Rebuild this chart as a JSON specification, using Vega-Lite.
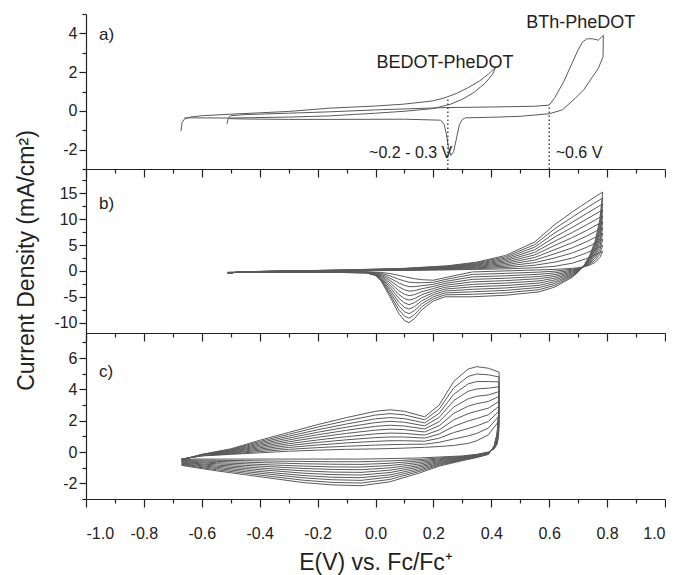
{
"$schema": "https://vega.github.io/schema/vega-lite/v6.json",
"padding": {"left": 15, "top": 13, "right": 0, "bottom": 2},
"bounds": "flush",
"spacing": 0,
"config": {
 "font": "Liberation Sans",
 "view": {"stroke": null},
 "axis": {"domainColor": "#222", "tickColor": "#222", "labelColor": "#222", "titleColor": "#222", "grid": false, "labelFontSize": 16, "labelFont": "Liberation Sans", "titleFont": "Liberation Sans", "titleFontWeight": "normal", "domainWidth": 1.2, "tickWidth": 1.2}
},
"datasets": {
"A": [
{"c":"e","x":-0.672,"y":-1.05},{"c":"e","x":-0.668,"y":-0.6},{"c":"e","x":-0.66,"y":-0.42},{"c":"e","x":-0.64,"y":-0.32},{"c":"e","x":-0.6,"y":-0.25},{"c":"e","x":-0.5,"y":-0.17},{"c":"e","x":-0.4,"y":-0.1},{"c":"e","x":-0.3,"y":-0.03},{"c":"e","x":-0.16,"y":0.14},{"c":"e","x":0,"y":0.25},{"c":"e","x":0.1,"y":0.35},{"c":"e","x":0.2,"y":0.52},{"c":"e","x":0.24,"y":0.68},{"c":"e","x":0.28,"y":0.9},{"c":"e","x":0.32,"y":1.2},{"c":"e","x":0.36,"y":1.55},{"c":"e","x":0.39,"y":1.9},{"c":"e","x":0.415,"y":2.25},{"c":"e","x":0.405,"y":1.9},{"c":"e","x":0.38,"y":1.45},{"c":"e","x":0.34,"y":0.95},{"c":"e","x":0.3,"y":0.6},{"c":"e","x":0.26,"y":0.35},{"c":"e","x":0.2,"y":0.12},{"c":"e","x":0.1,"y":-0.02},{"c":"e","x":0,"y":-0.12},{"c":"e","x":-0.16,"y":-0.26},{"c":"e","x":-0.3,"y":-0.32},{"c":"e","x":-0.5,"y":-0.37},{"c":"e","x":-0.66,"y":-0.36},
{"c":"t","x":-0.513,"y":-0.67},{"c":"t","x":-0.508,"y":-0.35},{"c":"t","x":-0.5,"y":-0.25},{"c":"t","x":-0.45,"y":-0.19},{"c":"t","x":-0.3,"y":-0.12},{"c":"t","x":-0.16,"y":-0.05},{"c":"t","x":0,"y":0.05},{"c":"t","x":0.24,"y":0.17},{"c":"t","x":0.4,"y":0.2},{"c":"t","x":0.55,"y":0.24},{"c":"t","x":0.6,"y":0.3},{"c":"t","x":0.62,"y":0.7},{"c":"t","x":0.65,"y":1.5},{"c":"t","x":0.68,"y":2.5},{"c":"t","x":0.7,"y":3.15},{"c":"t","x":0.715,"y":3.55},{"c":"t","x":0.73,"y":3.72},{"c":"t","x":0.75,"y":3.72},{"c":"t","x":0.77,"y":3.65},{"c":"t","x":0.787,"y":3.9},{"c":"t","x":0.786,"y":2.8},{"c":"t","x":0.77,"y":2.2},{"c":"t","x":0.748,"y":1.72},{"c":"t","x":0.72,"y":1.1},{"c":"t","x":0.69,"y":0.65},{"c":"t","x":0.645,"y":0.05},{"c":"t","x":0.6,"y":-0.15},{"c":"t","x":0.5,"y":-0.28},{"c":"t","x":0.4,"y":-0.33},{"c":"t","x":0.31,"y":-0.36},{"c":"t","x":0.3,"y":-0.45},{"c":"t","x":0.29,"y":-0.7},{"c":"t","x":0.28,"y":-1.4},{"c":"t","x":0.27,"y":-2.1},{"c":"t","x":0.26,"y":-2.3},{"c":"t","x":0.252,"y":-1.9},{"c":"t","x":0.245,"y":-1.2},{"c":"t","x":0.237,"y":-0.7},{"c":"t","x":0.225,"y":-0.48},{"c":"t","x":0.1,"y":-0.43},{"c":"t","x":-0.16,"y":-0.44},{"c":"t","x":-0.3,"y":-0.44},{"c":"t","x":-0.45,"y":-0.42},{"c":"t","x":-0.505,"y":-0.4}
],
"B": [
{"c":0,"x":-0.51,"y":-0.4},{"c":0,"x":-0.45,"y":-0.15},{"c":0,"x":-0.3,"y":-0.1},{"c":0,"x":-0.1,"y":0},{"c":0,"x":0.1,"y":0.1},{"c":0,"x":0.25,"y":0.2},{"c":0,"x":0.35,"y":0.3},{"c":0,"x":0.45,"y":0.4},{"c":0,"x":0.55,"y":0.6},{"c":0,"x":0.62,"y":0.9},{"c":0,"x":0.68,"y":1.5},{"c":0,"x":0.73,"y":2.4},{"c":0,"x":0.785,"y":3.8},{"c":0,"x":0.775,"y":2.6},{"c":0,"x":0.76,"y":1.7},{"c":0,"x":0.74,"y":1.1},{"c":0,"x":0.72,"y":0.8},{"c":0,"x":0.7,"y":0.6},{"c":0,"x":0.68,"y":0.5},{"c":0,"x":0.62,"y":0.3},{"c":0,"x":0.565,"y":0.2},{"c":0,"x":0.45,"y":0},{"c":0,"x":0.334,"y":-0.2},{"c":0,"x":0.24,"y":-1.3},{"c":0,"x":0.2,"y":-1.8},{"c":0,"x":0.16,"y":-1.7},{"c":0,"x":0.135,"y":-1.5},{"c":0,"x":0.116,"y":-1.3},{"c":0,"x":0.1,"y":-1.1},{"c":0,"x":0.08,"y":-0.85},{"c":0,"x":0.05,"y":-0.5},{"c":0,"x":0.02,"y":-0.3},{"c":0,"x":0,"y":-0.25},{"c":0,"x":-0.03,"y":-0.2},{"c":0,"x":-0.2,"y":-0.22},{"c":0,"x":-0.51,"y":-0.3},
{"c":1,"x":-0.51,"y":-0.4},{"c":1,"x":-0.45,"y":-0.15},{"c":1,"x":-0.3,"y":-0.09},{"c":1,"x":-0.1,"y":0.02},{"c":1,"x":0.1,"y":0.14},{"c":1,"x":0.25,"y":0.28},{"c":1,"x":0.35,"y":0.44},{"c":1,"x":0.45,"y":0.66},{"c":1,"x":0.55,"y":1.1},{"c":1,"x":0.62,"y":1.71},{"c":1,"x":0.68,"y":2.49},{"c":1,"x":0.73,"y":3.49},{"c":1,"x":0.785,"y":4.95},{"c":1,"x":0.775,"y":3.34},{"c":1,"x":0.76,"y":2.13},{"c":1,"x":0.74,"y":1.29},{"c":1,"x":0.72,"y":0.82},{"c":1,"x":0.7,"y":0.52},{"c":1,"x":0.68,"y":0.33},{"c":1,"x":0.62,"y":-0.04},{"c":1,"x":0.565,"y":-0.23},{"c":1,"x":0.45,"y":-0.47},{"c":1,"x":0.334,"y":-0.68},{"c":1,"x":0.24,"y":-1.67},{"c":1,"x":0.2,"y":-2.2},{"c":1,"x":0.16,"y":-2.28},{"c":1,"x":0.135,"y":-2.27},{"c":1,"x":0.116,"y":-2.17},{"c":1,"x":0.1,"y":-1.95},{"c":1,"x":0.08,"y":-1.59},{"c":1,"x":0.05,"y":-0.95},{"c":1,"x":0.02,"y":-0.47},{"c":1,"x":0,"y":-0.32},{"c":1,"x":-0.03,"y":-0.22},{"c":1,"x":-0.2,"y":-0.22},{"c":1,"x":-0.51,"y":-0.3},
{"c":2,"x":-0.51,"y":-0.4},{"c":2,"x":-0.45,"y":-0.15},{"c":2,"x":-0.3,"y":-0.08},{"c":2,"x":-0.1,"y":0.04},{"c":2,"x":0.1,"y":0.18},{"c":2,"x":0.25,"y":0.36},{"c":2,"x":0.35,"y":0.58},{"c":2,"x":0.45,"y":0.92},{"c":2,"x":0.55,"y":1.6},{"c":2,"x":0.62,"y":2.52},{"c":2,"x":0.68,"y":3.48},{"c":2,"x":0.73,"y":4.58},{"c":2,"x":0.785,"y":6.09},{"c":2,"x":0.775,"y":4.08},{"c":2,"x":0.76,"y":2.56},{"c":2,"x":0.74,"y":1.48},{"c":2,"x":0.72,"y":0.84},{"c":2,"x":0.7,"y":0.44},{"c":2,"x":0.68,"y":0.16},{"c":2,"x":0.62,"y":-0.38},{"c":2,"x":0.565,"y":-0.65},{"c":2,"x":0.45,"y":-0.94},{"c":2,"x":0.334,"y":-1.16},{"c":2,"x":0.24,"y":-2.04},{"c":2,"x":0.2,"y":-2.6},{"c":2,"x":0.16,"y":-2.86},{"c":2,"x":0.135,"y":-3.04},{"c":2,"x":0.116,"y":-3.04},{"c":2,"x":0.1,"y":-2.8},{"c":2,"x":0.08,"y":-2.32},{"c":2,"x":0.05,"y":-1.4},{"c":2,"x":0.02,"y":-0.64},{"c":2,"x":0,"y":-0.38},{"c":2,"x":-0.03,"y":-0.24},{"c":2,"x":-0.2,"y":-0.22},{"c":2,"x":-0.51,"y":-0.3},
{"c":3,"x":-0.51,"y":-0.4},{"c":3,"x":-0.45,"y":-0.15},{"c":3,"x":-0.3,"y":-0.07},{"c":3,"x":-0.1,"y":0.06},{"c":3,"x":0.1,"y":0.22},{"c":3,"x":0.25,"y":0.44},{"c":3,"x":0.35,"y":0.72},{"c":3,"x":0.45,"y":1.18},{"c":3,"x":0.55,"y":2.1},{"c":3,"x":0.62,"y":3.33},{"c":3,"x":0.68,"y":4.47},{"c":3,"x":0.73,"y":5.67},{"c":3,"x":0.785,"y":7.24},{"c":3,"x":0.775,"y":4.82},{"c":3,"x":0.76,"y":2.99},{"c":3,"x":0.74,"y":1.67},{"c":3,"x":0.72,"y":0.86},{"c":3,"x":0.7,"y":0.36},{"c":3,"x":0.68,"y":-0.01},{"c":3,"x":0.62,"y":-0.72},{"c":3,"x":0.565,"y":-1.08},{"c":3,"x":0.45,"y":-1.41},{"c":3,"x":0.334,"y":-1.64},{"c":3,"x":0.24,"y":-2.41},{"c":3,"x":0.2,"y":-3.0},{"c":3,"x":0.16,"y":-3.44},{"c":3,"x":0.135,"y":-3.81},{"c":3,"x":0.116,"y":-3.91},{"c":3,"x":0.1,"y":-3.65},{"c":3,"x":0.08,"y":-3.06},{"c":3,"x":0.05,"y":-1.85},{"c":3,"x":0.02,"y":-0.81},{"c":3,"x":0,"y":-0.45},{"c":3,"x":-0.03,"y":-0.26},{"c":3,"x":-0.2,"y":-0.22},{"c":3,"x":-0.51,"y":-0.3},
{"c":4,"x":-0.51,"y":-0.4},{"c":4,"x":-0.45,"y":-0.15},{"c":4,"x":-0.3,"y":-0.06},{"c":4,"x":-0.1,"y":0.08},{"c":4,"x":0.1,"y":0.26},{"c":4,"x":0.25,"y":0.52},{"c":4,"x":0.35,"y":0.86},{"c":4,"x":0.45,"y":1.44},{"c":4,"x":0.55,"y":2.6},{"c":4,"x":0.62,"y":4.14},{"c":4,"x":0.68,"y":5.46},{"c":4,"x":0.73,"y":6.76},{"c":4,"x":0.785,"y":8.38},{"c":4,"x":0.775,"y":5.56},{"c":4,"x":0.76,"y":3.42},{"c":4,"x":0.74,"y":1.86},{"c":4,"x":0.72,"y":0.88},{"c":4,"x":0.7,"y":0.28},{"c":4,"x":0.68,"y":-0.18},{"c":4,"x":0.62,"y":-1.06},{"c":4,"x":0.565,"y":-1.5},{"c":4,"x":0.45,"y":-1.88},{"c":4,"x":0.334,"y":-2.12},{"c":4,"x":0.24,"y":-2.78},{"c":4,"x":0.2,"y":-3.4},{"c":4,"x":0.16,"y":-4.02},{"c":4,"x":0.135,"y":-4.58},{"c":4,"x":0.116,"y":-4.78},{"c":4,"x":0.1,"y":-4.5},{"c":4,"x":0.08,"y":-3.79},{"c":4,"x":0.05,"y":-2.3},{"c":4,"x":0.02,"y":-0.98},{"c":4,"x":0,"y":-0.51},{"c":4,"x":-0.03,"y":-0.28},{"c":4,"x":-0.2,"y":-0.22},{"c":4,"x":-0.51,"y":-0.3},
{"c":5,"x":-0.51,"y":-0.4},{"c":5,"x":-0.45,"y":-0.15},{"c":5,"x":-0.3,"y":-0.05},{"c":5,"x":-0.1,"y":0.1},{"c":5,"x":0.1,"y":0.3},{"c":5,"x":0.25,"y":0.6},{"c":5,"x":0.35,"y":1.0},{"c":5,"x":0.45,"y":1.7},{"c":5,"x":0.55,"y":3.1},{"c":5,"x":0.62,"y":4.95},{"c":5,"x":0.68,"y":6.45},{"c":5,"x":0.73,"y":7.85},{"c":5,"x":0.785,"y":9.53},{"c":5,"x":0.775,"y":6.3},{"c":5,"x":0.76,"y":3.85},{"c":5,"x":0.74,"y":2.05},{"c":5,"x":0.72,"y":0.9},{"c":5,"x":0.7,"y":0.2},{"c":5,"x":0.68,"y":-0.35},{"c":5,"x":0.62,"y":-1.4},{"c":5,"x":0.565,"y":-1.93},{"c":5,"x":0.45,"y":-2.35},{"c":5,"x":0.334,"y":-2.6},{"c":5,"x":0.24,"y":-3.15},{"c":5,"x":0.2,"y":-3.8},{"c":5,"x":0.16,"y":-4.6},{"c":5,"x":0.135,"y":-5.35},{"c":5,"x":0.116,"y":-5.65},{"c":5,"x":0.1,"y":-5.35},{"c":5,"x":0.08,"y":-4.53},{"c":5,"x":0.05,"y":-2.75},{"c":5,"x":0.02,"y":-1.15},{"c":5,"x":0,"y":-0.58},{"c":5,"x":-0.03,"y":-0.3},{"c":5,"x":-0.2,"y":-0.22},{"c":5,"x":-0.51,"y":-0.3},
{"c":6,"x":-0.51,"y":-0.4},{"c":6,"x":-0.45,"y":-0.15},{"c":6,"x":-0.3,"y":-0.04},{"c":6,"x":-0.1,"y":0.12},{"c":6,"x":0.1,"y":0.34},{"c":6,"x":0.25,"y":0.68},{"c":6,"x":0.35,"y":1.14},{"c":6,"x":0.45,"y":1.96},{"c":6,"x":0.55,"y":3.6},{"c":6,"x":0.62,"y":5.76},{"c":6,"x":0.68,"y":7.44},{"c":6,"x":0.73,"y":8.94},{"c":6,"x":0.785,"y":10.67},{"c":6,"x":0.775,"y":7.04},{"c":6,"x":0.76,"y":4.28},{"c":6,"x":0.74,"y":2.24},{"c":6,"x":0.72,"y":0.92},{"c":6,"x":0.7,"y":0.12},{"c":6,"x":0.68,"y":-0.52},{"c":6,"x":0.62,"y":-1.74},{"c":6,"x":0.565,"y":-2.35},{"c":6,"x":0.45,"y":-2.82},{"c":6,"x":0.334,"y":-3.08},{"c":6,"x":0.24,"y":-3.52},{"c":6,"x":0.2,"y":-4.2},{"c":6,"x":0.16,"y":-5.18},{"c":6,"x":0.135,"y":-6.12},{"c":6,"x":0.116,"y":-6.52},{"c":6,"x":0.1,"y":-6.2},{"c":6,"x":0.08,"y":-5.26},{"c":6,"x":0.05,"y":-3.2},{"c":6,"x":0.02,"y":-1.32},{"c":6,"x":0,"y":-0.64},{"c":6,"x":-0.03,"y":-0.32},{"c":6,"x":-0.2,"y":-0.22},{"c":6,"x":-0.51,"y":-0.3},
{"c":7,"x":-0.51,"y":-0.4},{"c":7,"x":-0.45,"y":-0.15},{"c":7,"x":-0.3,"y":-0.03},{"c":7,"x":-0.1,"y":0.14},{"c":7,"x":0.1,"y":0.38},{"c":7,"x":0.25,"y":0.76},{"c":7,"x":0.35,"y":1.28},{"c":7,"x":0.45,"y":2.22},{"c":7,"x":0.55,"y":4.1},{"c":7,"x":0.62,"y":6.57},{"c":7,"x":0.68,"y":8.43},{"c":7,"x":0.73,"y":10.03},{"c":7,"x":0.785,"y":11.82},{"c":7,"x":0.775,"y":7.78},{"c":7,"x":0.76,"y":4.71},{"c":7,"x":0.74,"y":2.43},{"c":7,"x":0.72,"y":0.94},{"c":7,"x":0.7,"y":0.04},{"c":7,"x":0.68,"y":-0.69},{"c":7,"x":0.62,"y":-2.08},{"c":7,"x":0.565,"y":-2.78},{"c":7,"x":0.45,"y":-3.29},{"c":7,"x":0.334,"y":-3.56},{"c":7,"x":0.24,"y":-3.89},{"c":7,"x":0.2,"y":-4.6},{"c":7,"x":0.16,"y":-5.76},{"c":7,"x":0.135,"y":-6.89},{"c":7,"x":0.116,"y":-7.39},{"c":7,"x":0.1,"y":-7.05},{"c":7,"x":0.08,"y":-6.0},{"c":7,"x":0.05,"y":-3.65},{"c":7,"x":0.02,"y":-1.49},{"c":7,"x":0,"y":-0.71},{"c":7,"x":-0.03,"y":-0.34},{"c":7,"x":-0.2,"y":-0.22},{"c":7,"x":-0.51,"y":-0.3},
{"c":8,"x":-0.51,"y":-0.4},{"c":8,"x":-0.45,"y":-0.15},{"c":8,"x":-0.3,"y":-0.02},{"c":8,"x":-0.1,"y":0.16},{"c":8,"x":0.1,"y":0.42},{"c":8,"x":0.25,"y":0.84},{"c":8,"x":0.35,"y":1.42},{"c":8,"x":0.45,"y":2.48},{"c":8,"x":0.55,"y":4.6},{"c":8,"x":0.62,"y":7.38},{"c":8,"x":0.68,"y":9.42},{"c":8,"x":0.73,"y":11.12},{"c":8,"x":0.785,"y":12.96},{"c":8,"x":0.775,"y":8.52},{"c":8,"x":0.76,"y":5.14},{"c":8,"x":0.74,"y":2.62},{"c":8,"x":0.72,"y":0.96},{"c":8,"x":0.7,"y":-0.04},{"c":8,"x":0.68,"y":-0.86},{"c":8,"x":0.62,"y":-2.42},{"c":8,"x":0.565,"y":-3.2},{"c":8,"x":0.45,"y":-3.76},{"c":8,"x":0.334,"y":-4.04},{"c":8,"x":0.24,"y":-4.26},{"c":8,"x":0.2,"y":-5.0},{"c":8,"x":0.16,"y":-6.34},{"c":8,"x":0.135,"y":-7.66},{"c":8,"x":0.116,"y":-8.26},{"c":8,"x":0.1,"y":-7.9},{"c":8,"x":0.08,"y":-6.73},{"c":8,"x":0.05,"y":-4.1},{"c":8,"x":0.02,"y":-1.66},{"c":8,"x":0,"y":-0.77},{"c":8,"x":-0.03,"y":-0.36},{"c":8,"x":-0.2,"y":-0.22},{"c":8,"x":-0.51,"y":-0.3},
{"c":9,"x":-0.51,"y":-0.4},{"c":9,"x":-0.45,"y":-0.15},{"c":9,"x":-0.3,"y":-0.01},{"c":9,"x":-0.1,"y":0.18},{"c":9,"x":0.1,"y":0.46},{"c":9,"x":0.25,"y":0.92},{"c":9,"x":0.35,"y":1.56},{"c":9,"x":0.45,"y":2.74},{"c":9,"x":0.55,"y":5.1},{"c":9,"x":0.62,"y":8.19},{"c":9,"x":0.68,"y":10.41},{"c":9,"x":0.73,"y":12.21},{"c":9,"x":0.785,"y":14.11},{"c":9,"x":0.775,"y":9.26},{"c":9,"x":0.76,"y":5.57},{"c":9,"x":0.74,"y":2.81},{"c":9,"x":0.72,"y":0.98},{"c":9,"x":0.7,"y":-0.12},{"c":9,"x":0.68,"y":-1.03},{"c":9,"x":0.62,"y":-2.76},{"c":9,"x":0.565,"y":-3.63},{"c":9,"x":0.45,"y":-4.23},{"c":9,"x":0.334,"y":-4.52},{"c":9,"x":0.24,"y":-4.63},{"c":9,"x":0.2,"y":-5.4},{"c":9,"x":0.16,"y":-6.92},{"c":9,"x":0.135,"y":-8.43},{"c":9,"x":0.116,"y":-9.13},{"c":9,"x":0.1,"y":-8.75},{"c":9,"x":0.08,"y":-7.47},{"c":9,"x":0.05,"y":-4.55},{"c":9,"x":0.02,"y":-1.83},{"c":9,"x":0,"y":-0.84},{"c":9,"x":-0.03,"y":-0.38},{"c":9,"x":-0.2,"y":-0.22},{"c":9,"x":-0.51,"y":-0.3},
{"c":10,"x":-0.51,"y":-0.4},{"c":10,"x":-0.45,"y":-0.15},{"c":10,"x":-0.3,"y":0},{"c":10,"x":-0.1,"y":0.2},{"c":10,"x":0.1,"y":0.5},{"c":10,"x":0.25,"y":1.0},{"c":10,"x":0.35,"y":1.7},{"c":10,"x":0.45,"y":3.0},{"c":10,"x":0.55,"y":5.6},{"c":10,"x":0.62,"y":9.0},{"c":10,"x":0.68,"y":11.4},{"c":10,"x":0.73,"y":13.3},{"c":10,"x":0.785,"y":15.25},{"c":10,"x":0.775,"y":10.0},{"c":10,"x":0.76,"y":6.0},{"c":10,"x":0.74,"y":3.0},{"c":10,"x":0.72,"y":1.0},{"c":10,"x":0.7,"y":-0.2},{"c":10,"x":0.68,"y":-1.2},{"c":10,"x":0.62,"y":-3.1},{"c":10,"x":0.565,"y":-4.05},{"c":10,"x":0.45,"y":-4.7},{"c":10,"x":0.334,"y":-5.0},{"c":10,"x":0.24,"y":-5.0},{"c":10,"x":0.2,"y":-5.8},{"c":10,"x":0.16,"y":-7.5},{"c":10,"x":0.135,"y":-9.2},{"c":10,"x":0.116,"y":-10.0},{"c":10,"x":0.1,"y":-9.6},{"c":10,"x":0.08,"y":-8.2},{"c":10,"x":0.05,"y":-5.0},{"c":10,"x":0.02,"y":-2.0},{"c":10,"x":0,"y":-0.9},{"c":10,"x":-0.03,"y":-0.4},{"c":10,"x":-0.2,"y":-0.22},{"c":10,"x":-0.51,"y":-0.3}
],
"C": [
{"c":0,"x":-0.67,"y":-0.45},{"c":0,"x":-0.6,"y":-0.25},{"c":0,"x":-0.5,"y":-0.15},{"c":0,"x":-0.4,"y":-0.05},{"c":0,"x":-0.3,"y":0.05},{"c":0,"x":-0.2,"y":0.12},{"c":0,"x":-0.1,"y":0.17},{"c":0,"x":0,"y":0.2},{"c":0,"x":0.05,"y":0.22},{"c":0,"x":0.1,"y":0.25},{"c":0,"x":0.17,"y":0.3},{"c":0,"x":0.22,"y":0.35},{"c":0,"x":0.27,"y":0.42},{"c":0,"x":0.32,"y":0.55},{"c":0,"x":0.35,"y":0.72},{"c":0,"x":0.39,"y":1.1},{"c":0,"x":0.427,"y":2.0},{"c":0,"x":0.425,"y":1.0},{"c":0,"x":0.42,"y":0.5},{"c":0,"x":0.41,"y":0.2},{"c":0,"x":0.39,"y":0},{"c":0,"x":0.35,"y":-0.15},{"c":0,"x":0.3,"y":-0.25},{"c":0,"x":0.22,"y":-0.32},{"c":0,"x":0.15,"y":-0.38},{"c":0,"x":0.05,"y":-0.42},{"c":0,"x":-0.05,"y":-0.45},{"c":0,"x":-0.15,"y":-0.45},{"c":0,"x":-0.25,"y":-0.45},{"c":0,"x":-0.35,"y":-0.45},{"c":0,"x":-0.45,"y":-0.45},{"c":0,"x":-0.55,"y":-0.45},{"c":0,"x":-0.62,"y":-0.45},{"c":0,"x":-0.67,"y":-0.5},
{"c":1,"x":-0.67,"y":-0.46},{"c":1,"x":-0.6,"y":-0.24},{"c":1,"x":-0.5,"y":-0.12},{"c":1,"x":-0.4,"y":0.03},{"c":1,"x":-0.3,"y":0.17},{"c":1,"x":-0.2,"y":0.28},{"c":1,"x":-0.1,"y":0.37},{"c":1,"x":0,"y":0.44},{"c":1,"x":0.05,"y":0.47},{"c":1,"x":0.1,"y":0.49},{"c":1,"x":0.17,"y":0.5},{"c":1,"x":0.22,"y":0.62},{"c":1,"x":0.27,"y":0.83},{"c":1,"x":0.32,"y":1.03},{"c":1,"x":0.35,"y":1.19},{"c":1,"x":0.39,"y":1.53},{"c":1,"x":0.427,"y":2.31},{"c":1,"x":0.425,"y":1.15},{"c":1,"x":0.42,"y":0.57},{"c":1,"x":0.41,"y":0.22},{"c":1,"x":0.39,"y":-0.02},{"c":1,"x":0.35,"y":-0.17},{"c":1,"x":0.3,"y":-0.28},{"c":1,"x":0.22,"y":-0.38},{"c":1,"x":0.15,"y":-0.48},{"c":1,"x":0.05,"y":-0.57},{"c":1,"x":-0.05,"y":-0.62},{"c":1,"x":-0.15,"y":-0.62},{"c":1,"x":-0.25,"y":-0.6},{"c":1,"x":-0.35,"y":-0.58},{"c":1,"x":-0.45,"y":-0.55},{"c":1,"x":-0.55,"y":-0.53},{"c":1,"x":-0.62,"y":-0.51},{"c":1,"x":-0.67,"y":-0.54},
{"c":2,"x":-0.67,"y":-0.46},{"c":2,"x":-0.6,"y":-0.23},{"c":2,"x":-0.5,"y":-0.08},{"c":2,"x":-0.4,"y":0.11},{"c":2,"x":-0.3,"y":0.29},{"c":2,"x":-0.2,"y":0.45},{"c":2,"x":-0.1,"y":0.58},{"c":2,"x":0,"y":0.68},{"c":2,"x":0.05,"y":0.72},{"c":2,"x":0.1,"y":0.72},{"c":2,"x":0.17,"y":0.69},{"c":2,"x":0.22,"y":0.88},{"c":2,"x":0.27,"y":1.24},{"c":2,"x":0.32,"y":1.5},{"c":2,"x":0.35,"y":1.67},{"c":2,"x":0.39,"y":1.95},{"c":2,"x":0.427,"y":2.62},{"c":2,"x":0.425,"y":1.3},{"c":2,"x":0.42,"y":0.64},{"c":2,"x":0.41,"y":0.24},{"c":2,"x":0.39,"y":-0.03},{"c":2,"x":0.35,"y":-0.19},{"c":2,"x":0.3,"y":-0.31},{"c":2,"x":0.22,"y":-0.44},{"c":2,"x":0.15,"y":-0.57},{"c":2,"x":0.05,"y":-0.72},{"c":2,"x":-0.05,"y":-0.79},{"c":2,"x":-0.15,"y":-0.78},{"c":2,"x":-0.25,"y":-0.75},{"c":2,"x":-0.35,"y":-0.7},{"c":2,"x":-0.45,"y":-0.65},{"c":2,"x":-0.55,"y":-0.6},{"c":2,"x":-0.62,"y":-0.56},{"c":2,"x":-0.67,"y":-0.57},
{"c":3,"x":-0.67,"y":-0.47},{"c":3,"x":-0.6,"y":-0.22},{"c":3,"x":-0.5,"y":-0.05},{"c":3,"x":-0.4,"y":0.19},{"c":3,"x":-0.3,"y":0.41},{"c":3,"x":-0.2,"y":0.61},{"c":3,"x":-0.1,"y":0.78},{"c":3,"x":0,"y":0.92},{"c":3,"x":0.05,"y":0.96},{"c":3,"x":0.1,"y":0.96},{"c":3,"x":0.17,"y":0.89},{"c":3,"x":0.22,"y":1.15},{"c":3,"x":0.27,"y":1.64},{"c":3,"x":0.32,"y":1.98},{"c":3,"x":0.35,"y":2.14},{"c":3,"x":0.39,"y":2.38},{"c":3,"x":0.427,"y":2.93},{"c":3,"x":0.425,"y":1.45},{"c":3,"x":0.42,"y":0.71},{"c":3,"x":0.41,"y":0.26},{"c":3,"x":0.39,"y":-0.05},{"c":3,"x":0.35,"y":-0.21},{"c":3,"x":0.3,"y":-0.34},{"c":3,"x":0.22,"y":-0.49},{"c":3,"x":0.15,"y":-0.67},{"c":3,"x":0.05,"y":-0.86},{"c":3,"x":-0.05,"y":-0.96},{"c":3,"x":-0.15,"y":-0.95},{"c":3,"x":-0.25,"y":-0.9},{"c":3,"x":-0.35,"y":-0.83},{"c":3,"x":-0.45,"y":-0.75},{"c":3,"x":-0.55,"y":-0.68},{"c":3,"x":-0.62,"y":-0.62},{"c":3,"x":-0.67,"y":-0.61},
{"c":4,"x":-0.67,"y":-0.47},{"c":4,"x":-0.6,"y":-0.21},{"c":4,"x":-0.5,"y":-0.01},{"c":4,"x":-0.4,"y":0.27},{"c":4,"x":-0.3,"y":0.53},{"c":4,"x":-0.2,"y":0.77},{"c":4,"x":-0.1,"y":0.98},{"c":4,"x":0,"y":1.16},{"c":4,"x":0.05,"y":1.21},{"c":4,"x":0.1,"y":1.19},{"c":4,"x":0.17,"y":1.08},{"c":4,"x":0.22,"y":1.41},{"c":4,"x":0.27,"y":2.05},{"c":4,"x":0.32,"y":2.45},{"c":4,"x":0.35,"y":2.61},{"c":4,"x":0.39,"y":2.8},{"c":4,"x":0.427,"y":3.24},{"c":4,"x":0.425,"y":1.6},{"c":4,"x":0.42,"y":0.78},{"c":4,"x":0.41,"y":0.28},{"c":4,"x":0.39,"y":-0.06},{"c":4,"x":0.35,"y":-0.23},{"c":4,"x":0.3,"y":-0.37},{"c":4,"x":0.22,"y":-0.55},{"c":4,"x":0.15,"y":-0.77},{"c":4,"x":0.05,"y":-1.01},{"c":4,"x":-0.05,"y":-1.13},{"c":4,"x":-0.15,"y":-1.11},{"c":4,"x":-0.25,"y":-1.05},{"c":4,"x":-0.35,"y":-0.95},{"c":4,"x":-0.45,"y":-0.85},{"c":4,"x":-0.55,"y":-0.75},{"c":4,"x":-0.62,"y":-0.67},{"c":4,"x":-0.67,"y":-0.64},
{"c":5,"x":-0.67,"y":-0.48},{"c":5,"x":-0.6,"y":-0.2},{"c":5,"x":-0.5,"y":0.03},{"c":5,"x":-0.4,"y":0.35},{"c":5,"x":-0.3,"y":0.65},{"c":5,"x":-0.2,"y":0.94},{"c":5,"x":-0.1,"y":1.19},{"c":5,"x":0,"y":1.4},{"c":5,"x":0.05,"y":1.46},{"c":5,"x":0.1,"y":1.43},{"c":5,"x":0.17,"y":1.28},{"c":5,"x":0.22,"y":1.68},{"c":5,"x":0.27,"y":2.46},{"c":5,"x":0.32,"y":2.93},{"c":5,"x":0.35,"y":3.09},{"c":5,"x":0.39,"y":3.23},{"c":5,"x":0.427,"y":3.55},{"c":5,"x":0.425,"y":1.75},{"c":5,"x":0.42,"y":0.85},{"c":5,"x":0.41,"y":0.3},{"c":5,"x":0.39,"y":-0.08},{"c":5,"x":0.35,"y":-0.25},{"c":5,"x":0.3,"y":-0.4},{"c":5,"x":0.22,"y":-0.61},{"c":5,"x":0.15,"y":-0.87},{"c":5,"x":0.05,"y":-1.16},{"c":5,"x":-0.05,"y":-1.3},{"c":5,"x":-0.15,"y":-1.28},{"c":5,"x":-0.25,"y":-1.2},{"c":5,"x":-0.35,"y":-1.08},{"c":5,"x":-0.45,"y":-0.95},{"c":5,"x":-0.55,"y":-0.83},{"c":5,"x":-0.62,"y":-0.73},{"c":5,"x":-0.67,"y":-0.68},
{"c":6,"x":-0.67,"y":-0.48},{"c":6,"x":-0.6,"y":-0.19},{"c":6,"x":-0.5,"y":0.06},{"c":6,"x":-0.4,"y":0.43},{"c":6,"x":-0.3,"y":0.77},{"c":6,"x":-0.2,"y":1.1},{"c":6,"x":-0.1,"y":1.39},{"c":6,"x":0,"y":1.64},{"c":6,"x":0.05,"y":1.71},{"c":6,"x":0.1,"y":1.66},{"c":6,"x":0.17,"y":1.47},{"c":6,"x":0.22,"y":1.94},{"c":6,"x":0.27,"y":2.87},{"c":6,"x":0.32,"y":3.4},{"c":6,"x":0.35,"y":3.56},{"c":6,"x":0.39,"y":3.65},{"c":6,"x":0.427,"y":3.86},{"c":6,"x":0.425,"y":1.9},{"c":6,"x":0.42,"y":0.92},{"c":6,"x":0.41,"y":0.32},{"c":6,"x":0.39,"y":-0.09},{"c":6,"x":0.35,"y":-0.27},{"c":6,"x":0.3,"y":-0.43},{"c":6,"x":0.22,"y":-0.67},{"c":6,"x":0.15,"y":-0.96},{"c":6,"x":0.05,"y":-1.31},{"c":6,"x":-0.05,"y":-1.47},{"c":6,"x":-0.15,"y":-1.44},{"c":6,"x":-0.25,"y":-1.35},{"c":6,"x":-0.35,"y":-1.2},{"c":6,"x":-0.45,"y":-1.05},{"c":6,"x":-0.55,"y":-0.9},{"c":6,"x":-0.62,"y":-0.78},{"c":6,"x":-0.67,"y":-0.71},
{"c":7,"x":-0.67,"y":-0.49},{"c":7,"x":-0.6,"y":-0.18},{"c":7,"x":-0.5,"y":0.1},{"c":7,"x":-0.4,"y":0.51},{"c":7,"x":-0.3,"y":0.89},{"c":7,"x":-0.2,"y":1.26},{"c":7,"x":-0.1,"y":1.59},{"c":7,"x":0,"y":1.88},{"c":7,"x":0.05,"y":1.96},{"c":7,"x":0.1,"y":1.9},{"c":7,"x":0.17,"y":1.67},{"c":7,"x":0.22,"y":2.21},{"c":7,"x":0.27,"y":3.28},{"c":7,"x":0.32,"y":3.88},{"c":7,"x":0.35,"y":4.03},{"c":7,"x":0.39,"y":4.08},{"c":7,"x":0.427,"y":4.17},{"c":7,"x":0.425,"y":2.05},{"c":7,"x":0.42,"y":0.99},{"c":7,"x":0.41,"y":0.34},{"c":7,"x":0.39,"y":-0.11},{"c":7,"x":0.35,"y":-0.29},{"c":7,"x":0.3,"y":-0.46},{"c":7,"x":0.22,"y":-0.73},{"c":7,"x":0.15,"y":-1.06},{"c":7,"x":0.05,"y":-1.46},{"c":7,"x":-0.05,"y":-1.64},{"c":7,"x":-0.15,"y":-1.61},{"c":7,"x":-0.25,"y":-1.5},{"c":7,"x":-0.35,"y":-1.33},{"c":7,"x":-0.45,"y":-1.15},{"c":7,"x":-0.55,"y":-0.98},{"c":7,"x":-0.62,"y":-0.84},{"c":7,"x":-0.67,"y":-0.75},
{"c":8,"x":-0.67,"y":-0.49},{"c":8,"x":-0.6,"y":-0.17},{"c":8,"x":-0.5,"y":0.13},{"c":8,"x":-0.4,"y":0.59},{"c":8,"x":-0.3,"y":1.01},{"c":8,"x":-0.2,"y":1.42},{"c":8,"x":-0.1,"y":1.79},{"c":8,"x":0,"y":2.12},{"c":8,"x":0.05,"y":2.2},{"c":8,"x":0.1,"y":2.13},{"c":8,"x":0.17,"y":1.86},{"c":8,"x":0.22,"y":2.47},{"c":8,"x":0.27,"y":3.68},{"c":8,"x":0.32,"y":4.35},{"c":8,"x":0.35,"y":4.5},{"c":8,"x":0.39,"y":4.5},{"c":8,"x":0.427,"y":4.48},{"c":8,"x":0.425,"y":2.2},{"c":8,"x":0.42,"y":1.06},{"c":8,"x":0.41,"y":0.36},{"c":8,"x":0.39,"y":-0.12},{"c":8,"x":0.35,"y":-0.31},{"c":8,"x":0.3,"y":-0.49},{"c":8,"x":0.22,"y":-0.78},{"c":8,"x":0.15,"y":-1.16},{"c":8,"x":0.05,"y":-1.6},{"c":8,"x":-0.05,"y":-1.81},{"c":8,"x":-0.15,"y":-1.77},{"c":8,"x":-0.25,"y":-1.65},{"c":8,"x":-0.35,"y":-1.45},{"c":8,"x":-0.45,"y":-1.25},{"c":8,"x":-0.55,"y":-1.05},{"c":8,"x":-0.62,"y":-0.89},{"c":8,"x":-0.67,"y":-0.78},
{"c":9,"x":-0.67,"y":-0.5},{"c":9,"x":-0.6,"y":-0.16},{"c":9,"x":-0.5,"y":0.17},{"c":9,"x":-0.4,"y":0.67},{"c":9,"x":-0.3,"y":1.13},{"c":9,"x":-0.2,"y":1.59},{"c":9,"x":-0.1,"y":2.0},{"c":9,"x":0,"y":2.36},{"c":9,"x":0.05,"y":2.45},{"c":9,"x":0.1,"y":2.37},{"c":9,"x":0.17,"y":2.06},{"c":9,"x":0.22,"y":2.74},{"c":9,"x":0.27,"y":4.09},{"c":9,"x":0.32,"y":4.83},{"c":9,"x":0.35,"y":4.98},{"c":9,"x":0.39,"y":4.93},{"c":9,"x":0.427,"y":4.79},{"c":9,"x":0.425,"y":2.35},{"c":9,"x":0.42,"y":1.13},{"c":9,"x":0.41,"y":0.38},{"c":9,"x":0.39,"y":-0.14},{"c":9,"x":0.35,"y":-0.33},{"c":9,"x":0.3,"y":-0.52},{"c":9,"x":0.22,"y":-0.84},{"c":9,"x":0.15,"y":-1.25},{"c":9,"x":0.05,"y":-1.75},{"c":9,"x":-0.05,"y":-1.98},{"c":9,"x":-0.15,"y":-1.94},{"c":9,"x":-0.25,"y":-1.8},{"c":9,"x":-0.35,"y":-1.58},{"c":9,"x":-0.45,"y":-1.35},{"c":9,"x":-0.55,"y":-1.13},{"c":9,"x":-0.62,"y":-0.95},{"c":9,"x":-0.67,"y":-0.82},
{"c":10,"x":-0.67,"y":-0.5},{"c":10,"x":-0.6,"y":-0.15},{"c":10,"x":-0.5,"y":0.2},{"c":10,"x":-0.4,"y":0.75},{"c":10,"x":-0.3,"y":1.25},{"c":10,"x":-0.2,"y":1.75},{"c":10,"x":-0.1,"y":2.2},{"c":10,"x":0,"y":2.6},{"c":10,"x":0.05,"y":2.7},{"c":10,"x":0.1,"y":2.6},{"c":10,"x":0.17,"y":2.25},{"c":10,"x":0.22,"y":3.0},{"c":10,"x":0.27,"y":4.5},{"c":10,"x":0.32,"y":5.3},{"c":10,"x":0.35,"y":5.45},{"c":10,"x":0.39,"y":5.35},{"c":10,"x":0.427,"y":5.1},{"c":10,"x":0.425,"y":2.5},{"c":10,"x":0.42,"y":1.2},{"c":10,"x":0.41,"y":0.4},{"c":10,"x":0.39,"y":-0.15},{"c":10,"x":0.35,"y":-0.35},{"c":10,"x":0.3,"y":-0.55},{"c":10,"x":0.22,"y":-0.9},{"c":10,"x":0.15,"y":-1.35},{"c":10,"x":0.05,"y":-1.9},{"c":10,"x":-0.05,"y":-2.15},{"c":10,"x":-0.15,"y":-2.1},{"c":10,"x":-0.25,"y":-1.95},{"c":10,"x":-0.35,"y":-1.7},{"c":10,"x":-0.45,"y":-1.45},{"c":10,"x":-0.55,"y":-1.2},{"c":10,"x":-0.62,"y":-1.0},{"c":10,"x":-0.67,"y":-0.85}
]
},
"vconcat": [
{
 "width": 579, "height": 155,
 "encoding": {
  "x": {"field": "x", "type": "quantitative", "scale": {"domain": [-1, 1], "nice": false, "zero": false},
   "axis": {"title": null, "labels": false, "values": [-1,-0.9,-0.8,-0.7,-0.6,-0.5,-0.4,-0.3,-0.2,-0.1,0,0.1,0.2,0.3,0.4,0.5,0.6,0.7,0.8,0.9,1],
    "tickSize": {"condition": {"test": "abs(round(datum.value*10)) % 2 == 0", "value": 8}, "value": 4}}},
  "y": {"field": "y", "type": "quantitative", "scale": {"domain": [-3, 5], "nice": false, "zero": false},
   "axis": {"title": null, "values": [-3,-2,-1,0,1,2,3,4,5], "labelPadding": 2,
    "labelExpr": "datum.value % 2 == 0 ? (datum.value < 0 ? '-' : '') + abs(datum.value) : ''",
    "tickSize": {"condition": {"test": "datum.value % 2 == 0", "value": 7}, "value": 4}}}
 },
 "layer": [
  {"data": {"name": "A"}, "mark": {"type": "line", "color": "#5a5a5a", "strokeWidth": 1},
   "encoding": {"detail": {"field": "c"}, "order": {"value": null}}},
  {"data": {"values": [{"x": 0.25, "y": -3, "y2": 0.67}, {"x": 0.6, "y": -3, "y2": 0.24}]},
   "mark": {"type": "rule", "color": "#222", "strokeDash": [1.5, 2.5], "strokeWidth": 1.2},
   "encoding": {"y2": {"field": "y2"}}},
  {"data": {"values": [{"x": 0.709, "y": 4.52, "t": "BTh-PheDOT"}, {"x": 0.24, "y": 2.45, "t": "BEDOT-PheDOT"}]},
   "mark": {"type": "text", "fontSize": 18, "color": "#222", "align": "center", "baseline": "middle"},
   "encoding": {"text": {"field": "t"}}},
  {"data": {"values": [{"x": 0.1215, "y": -2.15, "t": "~0.2 - 0.3 V"}, {"x": 0.703, "y": -2.15, "t": "~0.6 V"}]},
   "mark": {"type": "text", "fontSize": 16, "color": "#222", "align": "center", "baseline": "middle"},
   "encoding": {"text": {"field": "t"}}},
  {"data": {"values": [{"x": -0.955, "y": 3.93, "t": "a)"}]},
   "mark": {"type": "text", "fontSize": 17, "color": "#222", "align": "left", "baseline": "middle"},
   "encoding": {"text": {"field": "t"}}}
 ]
},
{
 "width": 579, "height": 164,
 "encoding": {
  "x": {"field": "x", "type": "quantitative", "scale": {"domain": [-1, 1], "nice": false, "zero": false},
   "axis": {"title": null, "labels": false, "values": [-1,-0.9,-0.8,-0.7,-0.6,-0.5,-0.4,-0.3,-0.2,-0.1,0,0.1,0.2,0.3,0.4,0.5,0.6,0.7,0.8,0.9,1],
    "tickSize": {"condition": {"test": "abs(round(datum.value*10)) % 2 == 0", "value": 8}, "value": 4}}},
  "y": {"field": "y", "type": "quantitative", "scale": {"domain": [-12, 19.7], "nice": false, "zero": false},
   "axis": {"title": "Current Density (mA/cm²)", "titleFontSize": 23, "titlePadding": 15, "titleY": 91, "values": [-10,-7.5,-5,-2.5,0,2.5,5,7.5,10,12.5,15,17.5], "labelPadding": 2,
    "labelExpr": "datum.value % 5 == 0 ? (datum.value < 0 ? '-' : '') + abs(datum.value) : ''",
    "tickSize": {"condition": {"test": "datum.value % 5 == 0", "value": 7}, "value": 4}}}
 },
 "layer": [
  {"data": {"name": "B"}, "mark": {"type": "line", "color": "#5a5a5a", "strokeWidth": 1},
   "encoding": {"detail": {"field": "c"}, "order": {"value": null}}},
  {"data": {"values": [{"x": -0.955, "y": 13.0, "t": "b)"}]},
   "mark": {"type": "text", "fontSize": 17, "color": "#222", "align": "left", "baseline": "middle"},
   "encoding": {"text": {"field": "t"}}}
 ]
},
{
 "width": 579, "height": 166,
 "encoding": {
  "x": {"field": "x", "type": "quantitative", "scale": {"domain": [-1, 1], "nice": false, "zero": false},
   "axis": {"title": "E(V) vs. Fc/Fc⁺", "titleFontSize": 23, "titlePadding": 10, "values": [-1,-0.9,-0.8,-0.7,-0.6,-0.5,-0.4,-0.3,-0.2,-0.1,0,0.1,0.2,0.3,0.4,0.5,0.6,0.7,0.8,0.9,1],
    "labelPadding": 18,
    "labelExpr": "abs(round(datum.value*10)) % 2 == 0 ? (datum.value < 0 ? '-' : '') + format(abs(datum.value), '.1f') : ''",
    "tickSize": {"condition": {"test": "abs(round(datum.value*10)) % 2 == 0", "value": 8}, "value": 4}}},
  "y": {"field": "y", "type": "quantitative", "scale": {"domain": [-3, 7.6], "nice": false, "zero": false},
   "axis": {"title": null, "values": [-3,-2,-1,0,1,2,3,4,5,6,7], "labelPadding": 2,
    "labelExpr": "datum.value % 2 == 0 ? (datum.value < 0 ? '-' : '') + abs(datum.value) : ''",
    "tickSize": {"condition": {"test": "datum.value % 2 == 0", "value": 7}, "value": 4}}}
 },
 "layer": [
  {"data": {"name": "C"}, "mark": {"type": "line", "color": "#5a5a5a", "strokeWidth": 1},
   "encoding": {"detail": {"field": "c"}, "order": {"value": null}}},
  {"data": {"values": [{"x": -0.955, "y": 5.12, "t": "c)"}]},
   "mark": {"type": "text", "fontSize": 17, "color": "#222", "align": "left", "baseline": "middle"},
   "encoding": {"text": {"field": "t"}}}
 ]
}
]
}
